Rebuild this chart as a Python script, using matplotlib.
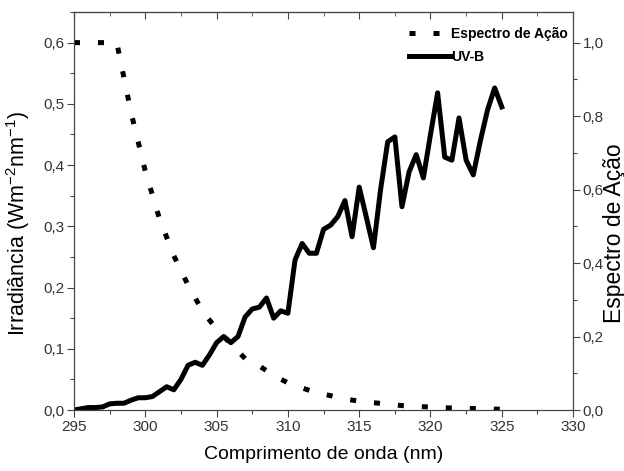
import matplotlib.pyplot as plt
from matplotlib.ticker import MultipleLocator, FuncFormatter

plt.rcParams['font.family'] = ['Liberation Sans', 'DejaVu Sans']
plt.rcParams['mathtext.default'] = 'regular'

# Espectro de Ação (1 nm)
acao_nm = list(range(295, 326))
acao = [1.0, 1.0, 1.0, 1.0, 0.81, 0.65, 0.52, 0.42, 0.34, 0.27, 0.22,
        0.18, 0.14, 0.12, 0.094, 0.074, 0.06, 0.047, 0.039, 0.03, 0.024,
        0.02, 0.016, 0.012, 0.01, 0.008, 0.006, 0.005, 0.004, 0.003, 0.002]

# UV-B irradiance (0.5 nm)
uvb_nm = [295 + 0.5 * i for i in range(61)]
uvb = [0.0, 0.002, 0.004, 0.004, 0.005, 0.01, 0.011, 0.011, 0.016, 0.02,
       0.02, 0.022, 0.03, 0.038, 0.033, 0.05, 0.073, 0.078, 0.073, 0.09,
       0.11, 0.12, 0.11, 0.12, 0.152, 0.165, 0.168, 0.183, 0.15, 0.162,
       0.158, 0.245, 0.272, 0.256, 0.256, 0.295, 0.302, 0.316, 0.342, 0.283,
       0.364, 0.315, 0.265, 0.36, 0.438, 0.446, 0.332, 0.389, 0.417, 0.379,
       0.45, 0.518, 0.413, 0.408, 0.477, 0.408, 0.384, 0.44, 0.49, 0.526,
       0.495]

comma = FuncFormatter(lambda v, p: f"{v:.1f}".replace(".", ","))
comma0 = FuncFormatter(lambda v, p: f"{v:.0f}")

fig = plt.figure(figsize=(6.24, 4.71), dpi=100)
ax = fig.add_axes([0.1186, 0.1295, 0.7998, 0.845])
ax2 = ax.twinx()

l2, = ax2.plot(acao_nm, acao, color="black", lw=3.6,
               dashes=(1.2, 3.6), label="Espectro de Ação")
l1, = ax.plot(uvb_nm, uvb, color="black", lw=3.6, label="UV-B")

ax.set_xlim(295, 330)
ax.set_ylim(0, 0.65)
ax2.set_ylim(0, 0.65 / 0.6)

ax.xaxis.set_major_locator(MultipleLocator(5))
ax.xaxis.set_minor_locator(MultipleLocator(2.5))
ax.yaxis.set_major_locator(MultipleLocator(0.1))
ax.yaxis.set_minor_locator(MultipleLocator(0.05))
ax2.yaxis.set_major_locator(MultipleLocator(0.2))
ax2.yaxis.set_minor_locator(MultipleLocator(0.1))
ax.yaxis.set_major_formatter(comma)
ax2.yaxis.set_major_formatter(comma)
ax.xaxis.set_major_formatter(comma0)

for a in (ax, ax2):
    a.tick_params(which="major", length=5, width=0.8, color="#444",
                  labelsize=11, labelcolor="#333", pad=2)
    a.tick_params(which="minor", length=3, width=0.8, color="#444")
    for s in a.spines.values():
        s.set_color("#444")
        s.set_linewidth(0.8)

top = ax.secondary_xaxis("top")
top.xaxis.set_major_locator(MultipleLocator(5))
top.xaxis.set_minor_locator(MultipleLocator(2.5))
top.tick_params(which="both", direction="in", labeltop=False, color="#444")
top.tick_params(which="major", length=5)
top.tick_params(which="minor", length=3)
top.spines["top"].set_color("#444")
top.spines["top"].set_linewidth(0.8)

ax.set_xlabel("Comprimento de onda (nm)", fontsize=14, labelpad=9)
ax.set_ylabel("Irradiância (Wm$^{-2}$nm$^{-1}$)", fontsize=15.5, labelpad=8)
ax2.set_ylabel("Espectro de Ação", fontsize=16.5, labelpad=-1)
ax.yaxis.label.set_y(0.47)
ax2.yaxis.label.set_y(0.445)

ax.legend(handles=[l2, l1], loc="upper right", frameon=False,
          bbox_to_anchor=(1.02, 1.0),
          prop={"weight": "bold", "size": 10}, handlelength=2.9,
          handletextpad=0.1, borderaxespad=0.7, labelspacing=0.6)

fig.savefig("out.png", dpi=100)
